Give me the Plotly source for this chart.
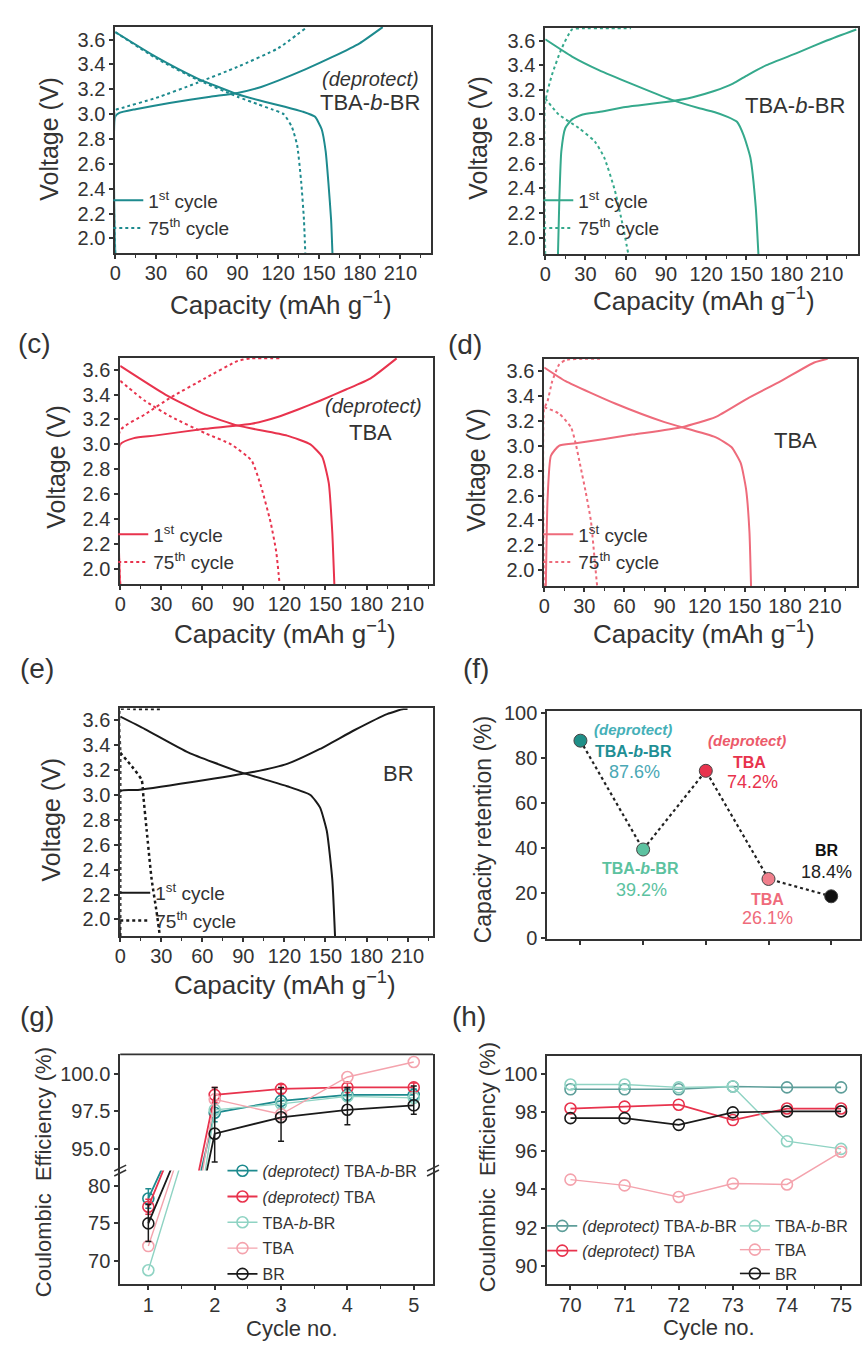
import plotly.graph_objects as go

W, H = 863, 1349
FONT = "Liberation Sans, Arial, Helvetica, sans-serif"
INK = "#333333"

# ---------------- colours ----------------
TEAL_D = "#1d8a8e"
TEAL_L = "#35a98c"
RED_D = "#e8334d"
PINK = "#ee6b7b"
BLACK = "#1a1a1a"
TEAL_PALE = "#8fd3c3"
PINK_PALE = "#f4a3ad"

# ---------------- data ----------------
cap_ticks = [0, 30, 60, 90, 120, 150, 180, 210]
volt_ticks = [2.0, 2.2, 2.4, 2.6, 2.8, 3.0, 3.2, 3.4, 3.6]

# (a) (deprotect) TBA-b-BR
a1_ch_x = [0, 0, 3, 15, 40, 70, 90, 105, 120, 140, 160, 180, 197]
a1_ch_y = [1.88, 2.98, 3.01, 3.04, 3.09, 3.14, 3.17, 3.21, 3.27, 3.36, 3.46, 3.57, 3.70]
a1_dis_x = [0, 30, 60, 90, 110, 125, 138, 147, 152, 155, 157, 159, 160]
a1_dis_y = [3.66, 3.46, 3.29, 3.16, 3.10, 3.06, 3.02, 2.98, 2.88, 2.70, 2.45, 2.15, 1.88]
a75_ch_x = [0, 0, 5, 30, 60, 90, 120, 140]
a75_ch_y = [1.88, 3.03, 3.05, 3.13, 3.25, 3.38, 3.53, 3.69]
a75_dis_x = [0, 30, 60, 90, 105, 115, 124, 130, 134, 137, 139, 140]
a75_dis_y = [3.66, 3.45, 3.28, 3.14, 3.08, 3.04, 3.00, 2.90, 2.75, 2.45, 2.15, 1.88]

# (b) TBA-b-BR
b1_ch_x = [9.5, 10.5, 12, 15, 20, 28, 40, 60, 90, 110, 126, 140, 151, 165, 188, 210, 232]
b1_ch_y = [1.865, 2.3, 2.7, 2.89, 2.96, 3.0, 3.02, 3.06, 3.10, 3.14, 3.19, 3.25, 3.32, 3.40, 3.50, 3.60, 3.69]
b1_dis_x = [0, 20, 40, 64, 94, 115, 126, 136, 143, 148, 153, 157, 159]
b1_dis_y = [3.61, 3.47, 3.36, 3.25, 3.12, 3.05, 3.02, 2.98, 2.94, 2.83, 2.65, 2.25, 1.865]
b75_ch_x = [0, 0, 5, 12, 20, 28, 45, 64]
b75_ch_y = [1.865, 3.10, 3.32, 3.53, 3.69, 3.70, 3.70, 3.70]
b75_dis_x = [0, 10, 25, 37, 44, 52, 58, 62]
b75_dis_y = [3.13, 3.0, 2.89, 2.78, 2.65, 2.38, 2.09, 1.865]

# (c) (deprotect) TBA
c1_ch_x = [0, 0, 10, 25, 62, 96, 115, 130, 146, 165, 183, 202]
c1_ch_y = [1.876, 3.0, 3.05, 3.07, 3.125, 3.165, 3.22, 3.28, 3.35, 3.44, 3.53, 3.69]
c1_dis_x = [0, 33, 62, 86, 122, 139, 147.6, 152.4, 155, 156.5]
c1_dis_y = [3.63, 3.40, 3.24, 3.15, 3.07, 3.0, 2.9, 2.69, 2.29, 1.876]
c75_ch_x = [0, 0, 18, 37.5, 62, 86, 96, 117]
c75_ch_y = [1.876, 3.11, 3.24, 3.38, 3.53, 3.67, 3.69, 3.69]
c75_dis_x = [0, 18, 37.5, 62, 81, 96, 103, 110, 114, 116.5]
c75_dis_y = [3.51, 3.35, 3.22, 3.09, 3.0, 2.87, 2.66, 2.37, 2.14, 1.876]

# (d) TBA
d1_ch_x = [1.2, 2.5, 5, 11, 23.5, 66, 103, 128, 152, 177, 202, 212]
d1_ch_y = [1.87, 2.57, 2.92, 3.0, 3.02, 3.09, 3.15, 3.23, 3.38, 3.52, 3.67, 3.70]
d1_dis_x = [0, 16, 53, 90, 128, 140, 147, 151, 153.5, 154.7]
d1_dis_y = [3.63, 3.52, 3.34, 3.19, 3.07, 2.99, 2.86, 2.65, 2.31, 1.87]
d75_ch_x = [0, 0, 2.5, 6, 11, 16, 30, 43]
d75_ch_y = [1.87, 3.3, 3.36, 3.52, 3.65, 3.69, 3.70, 3.70]
d75_dis_x = [0, 11, 20, 23.5, 27, 31, 35, 38, 39.6]
d75_dis_y = [3.31, 3.26, 3.15, 3.02, 2.84, 2.63, 2.39, 2.05, 1.87]

# (e) BR
e1_ch_x = [0, 0, 13, 62, 98, 122, 146, 171, 195, 207, 210]
e1_ch_y = [1.866, 3.03, 3.04, 3.12, 3.186, 3.25, 3.37, 3.52, 3.65, 3.69, 3.69]
e1_dis_x = [0, 18, 50, 86, 122, 139, 146, 151, 155, 157]
e1_dis_y = [3.63, 3.53, 3.34, 3.19, 3.07, 3.0, 2.9, 2.71, 2.32, 1.866]
e75_ch_x = [0, 0, 0, 10, 20, 29]
e75_ch_y = [1.866, 3.34, 3.69, 3.69, 3.69, 3.69]
e75_dis_x = [0, 8.5, 15.7, 17, 19.4, 23, 26.6, 29]
e75_dis_y = [3.34, 3.23, 3.12, 2.98, 2.71, 2.32, 2.06, 1.866]

# (f) capacity retention
f_x = [1, 2, 3, 4, 5]
f_y = [87.6, 39.2, 74.2, 26.1, 18.4]
f_colors = ["#1f8f88", "#5cc2a0", "#e8334d", "#f07f8c", "#111111"]

# (g) coulombic efficiency, first cycles
g_x = [1, 2, 3, 4, 5]
g_dTBbBR = [78.3, 97.4, 98.2, 98.6, 98.6]
g_dTBA = [77.2, 98.6, 99.0, 99.1, 99.1]
g_TBbBR = [68.8, 97.6, 98.0, 98.5, 98.4]
g_TBA = [72.0, 98.3, 97.3, 99.8, 100.8]
g_BR = [75.0, 96.0, 97.1, 97.6, 97.9]
g_BR_err_up = [2.5, 3.1, 2.0, 1.5, 1.3]
g_BR_err_dn = [2.4, 1.9, 1.6, 1.0, 0.6]
g_dTBA_err = [1.0, 0.5, 0.3, 0.3, 0.3]
g_dTBbBR_err = [1.3, 0.6, 0.5, 0.4, 0.4]

# (h) coulombic efficiency, late cycles
h_x = [70, 71, 72, 73, 74, 75]
h_dTBbBR = [99.2, 99.2, 99.2, 99.35, 99.3, 99.3]
h_dTBA = [98.2, 98.3, 98.4, 97.6, 98.2, 98.2]
h_TBbBR = [99.45, 99.45, 99.3, 99.35, 96.5, 96.1]
h_TBA = [94.5, 94.2, 93.6, 94.3, 94.25, 95.95]
h_BR = [97.7, 97.7, 97.35, 98.0, 98.05, 98.05]


def fx(p):
    return p / W


def fy(p):
    return 1 - p / H


fig = go.Figure()


def add_cycle(chx, chy, dx, dy, color, dash, name, xa, ya, leg, width=2.0):
    fig.add_trace(go.Scatter(
        x=list(chx) + [None] + list(dx), y=list(chy) + [None] + list(dy),
        mode="lines", name=name, xaxis=xa, yaxis=ya, legend=leg,
        line=dict(color=color, width=width, dash=dash, shape="spline", smoothing=0.5),
        hoverinfo="skip"))


n1 = "1<sup>st</sup> cycle"
n75 = "75<sup>th</sup> cycle"
add_cycle(a1_ch_x, a1_ch_y, a1_dis_x, a1_dis_y, TEAL_D, "solid", n1, "x", "y", "legend")
add_cycle(a75_ch_x, a75_ch_y, a75_dis_x, a75_dis_y, TEAL_D, "dot", n75, "x", "y", "legend")
add_cycle(b1_ch_x, b1_ch_y, b1_dis_x, b1_dis_y, TEAL_L, "solid", n1, "x2", "y2", "legend2")
add_cycle(b75_ch_x, b75_ch_y, b75_dis_x, b75_dis_y, TEAL_L, "dot", n75, "x2", "y2", "legend2")
add_cycle(c1_ch_x, c1_ch_y, c1_dis_x, c1_dis_y, RED_D, "solid", n1, "x3", "y3", "legend3")
add_cycle(c75_ch_x, c75_ch_y, c75_dis_x, c75_dis_y, RED_D, "dot", n75, "x3", "y3", "legend3")
add_cycle(d1_ch_x, d1_ch_y, d1_dis_x, d1_dis_y, PINK, "solid", n1, "x4", "y4", "legend4")
add_cycle(d75_ch_x, d75_ch_y, d75_dis_x, d75_dis_y, PINK, "dot", n75, "x4", "y4", "legend4")
add_cycle(e1_ch_x, e1_ch_y, e1_dis_x, e1_dis_y, BLACK, "solid", n1, "x5", "y5", "legend5")
add_cycle(e75_ch_x, e75_ch_y, e75_dis_x, e75_dis_y, BLACK, "dot", n75, "x5", "y5", "legend5", width=2.5)

# (f)
fig.add_trace(go.Scatter(
    x=f_x, y=f_y, mode="lines+markers", xaxis="x6", yaxis="y6", showlegend=False,
    line=dict(color="#222", width=2.2, dash="dot"),
    marker=dict(size=13, color=f_colors, line=dict(color="#444", width=1))))

# (g) broken axis: upper part y8, lower part y7
g_series = [
    ("gA", "<i>(deprotect)</i> TBA-<i>b</i>-BR", g_dTBbBR, TEAL_D, 1.8, g_dTBbBR_err, g_dTBbBR_err),
    ("gB", "<i>(deprotect)</i> TBA", g_dTBA, RED_D, 1.8, g_dTBA_err, g_dTBA_err),
    ("gC", "TBA-<i>b</i>-BR", g_TBbBR, TEAL_PALE, 1.4, None, None),
    ("gD", "TBA", g_TBA, PINK_PALE, 1.4, None, None),
    ("gE", "BR", g_BR, BLACK, 1.8, g_BR_err_up, g_BR_err_dn),
]
for grp, name, vals, col, lw, eu, ed in g_series:
    for ya, show in (("y7", False), ("y8", True)):
        err = None
        if eu is not None:
            err = dict(type="data", array=eu, arrayminus=ed, color=col, thickness=1.5, width=3)
        fig.add_trace(go.Scatter(
            x=g_x, y=vals, mode="lines+markers", name=name, xaxis="x7", yaxis=ya,
            legend="legend6", legendgroup=grp, showlegend=show, error_y=err,
            line=dict(color=col, width=lw),
            marker=dict(symbol="circle-open", size=11, color=col, line=dict(width=1.6, color=col))))

# (h)
h_series = [
    ("hA", "<i>(deprotect)</i> TBA-<i>b</i>-BR", h_dTBbBR, "#5e9e9a", 1.6, "legend7"),
    ("hB", "<i>(deprotect)</i> TBA", h_dTBA, RED_D, 1.8, "legend7"),
    ("hC", "TBA-<i>b</i>-BR", h_TBbBR, TEAL_PALE, 1.4, "legend8"),
    ("hD", "TBA", h_TBA, PINK_PALE, 1.4, "legend8"),
    ("hE", "BR", h_BR, BLACK, 1.6, "legend8"),
]
for grp, name, vals, col, lw, leg in h_series:
    fig.add_trace(go.Scatter(
        x=h_x, y=vals, mode="lines+markers", name=name, xaxis="x8", yaxis="y9",
        legend=leg, legendgroup=grp, line=dict(color=col, width=lw),
        marker=dict(symbol="circle-open", size=11, color=col, line=dict(width=1.6, color=col))))

# ---------------- layout ----------------
tickfont = dict(family=FONT, size=20, color=INK)
base = dict(showline=True, linecolor=INK, linewidth=1.8, mirror=True, ticks="outside",
            ticklen=4, tickwidth=1.5, tickcolor=INK, showgrid=False, zeroline=False,
            tickfont=tickfont, fixedrange=True)


def xdom(l, r):
    return [fx(l), fx(r)]


def ydom(t, b):
    return [fy(b), fy(t)]


def cap_axis(l, r, rmax, anchor):
    return dict(base, domain=xdom(l, r), range=[0, rmax], tickvals=cap_ticks, anchor=anchor,
                ticklabelstandoff=-3,
                minor=dict(ticks="outside", ticklen=3, tickwidth=1.2, tickcolor=INK, dtick=15, tick0=0))


def volt_axis(t, b, lo, hi, anchor):
    return dict(base, domain=ydom(t, b), range=[lo, hi], tickvals=volt_ticks, tickformat=".1f", anchor=anchor)


layout = dict(
    width=W, height=H, margin=dict(l=0, r=0, t=0, b=0),
    paper_bgcolor="white", plot_bgcolor="white",
    font=dict(family=FONT, color=INK),
    xaxis=cap_axis(110, 428, 232.6, "y"), yaxis=volt_axis(17, 247, 1.88, 3.703, "x"),
    xaxis2=cap_axis(543, 858, 233.3, "y2"), yaxis2=volt_axis(18, 248, 1.864, 3.704, "x2"),
    xaxis3=cap_axis(115, 430, 228.6, "y3"), yaxis3=volt_axis(353, 583, 1.876, 3.695, "x3"),
    xaxis4=cap_axis(542, 857, 234, "y4"), yaxis4=volt_axis(354, 585, 1.87, 3.70, "x4"),
    xaxis5=cap_axis(115, 430, 228.6, "y5"), yaxis5=volt_axis(709, 940, 1.866, 3.695, "x5"),
    xaxis6=dict(base, domain=xdom(545, 860), range=[0.47, 5.46], tickvals=f_x, showticklabels=False, anchor="y6"),
    yaxis6=dict(base, domain=ydom(712, 943), range=[-0.6, 100.6], tickvals=[0, 20, 40, 60, 80, 100], anchor="x6"),
    xaxis7=dict(base, domain=xdom(115, 430), range=[0.576, 5.29], tickvals=g_x, anchor="y7", mirror=False,
                ticklabelstandoff=-2,
                minor=dict(ticks="outside", ticklen=3, tickwidth=1.2, tickcolor=INK, dtick=0.5, tick0=0)),
    yaxis7=dict(base, domain=ydom(1178, 1293), range=[67.0, 82.0], tickvals=[70, 75, 80], anchor="x7"),
    yaxis8=dict(base, domain=ydom(1060, 1178), range=[93.53, 101.32], tickvals=[95, 97.5, 100],
                tickformat=".1f", anchor="x7"),
    xaxis8=dict(base, domain=xdom(545, 860), range=[69.57, 75.35], tickvals=h_x, anchor="y9",
                ticklabelstandoff=-2,
                minor=dict(ticks="outside", ticklen=3, tickwidth=1.2, tickcolor=INK, dtick=0.5, tick0=0)),
    yaxis9=dict(base, domain=ydom(1062, 1293), range=[89.08, 100.92], tickvals=[90, 92, 94, 96, 98, 100], anchor="x8"),
)


def leg(xp, yp, size, gap=0):
    return dict(x=fx(xp), y=fy(yp), xanchor="left", yanchor="top", bgcolor="rgba(0,0,0,0)",
                borderwidth=0, font=dict(family=FONT, size=size, color=INK), tracegroupgap=gap,
                itemclick=False, itemdoubleclick=False)


layout["legend"] = leg(103, 174, 19)
layout["legend2"] = leg(536, 174, 19)
layout["legend3"] = leg(108, 513, 19)
layout["legend4"] = leg(536, 513, 19)
layout["legend5"] = leg(110, 877, 19)
layout["legend6"] = leg(218, 1161, 16, gap=2)
layout["legend7"] = leg(540, 1217, 16, gap=1)
layout["legend8"] = leg(734, 1217, 16, gap=0)

fig.update_layout(**layout)

# ---------------- annotations ----------------
ann = []


def text(xp, yp, s, size, color=INK, angle=0, xanchor="center"):
    ann.append(dict(x=fx(xp), y=fy(yp), xref="paper", yref="paper", text=s, showarrow=False,
                    font=dict(family=FONT, size=size, color=color), textangle=angle,
                    xanchor=xanchor, yanchor="middle"))


cap_title = "Capacity (mAh g<sup>\u22121</sup>)"
# panel labels
for lab, xp, yp in [("(c)", 29, 339), ("(d)", 462, 340), ("(e)", 31, 668), ("(f)", 473, 668),
                    ("(g)", 31, 1022), ("(h)", 466, 1022)]:
    text(xp, yp, lab, 28)
# x titles
text(277, 298, cap_title, 26)
text(703, 294, cap_title, 26)
text(281, 632, cap_title, 26)
text(703, 632, cap_title, 26)
text(281, 988, cap_title, 26)
text(288, 1338, "Cycle no.", 22)
text(708, 1337, "Cycle no.", 22)
# y titles
text(43, 131, "Voltage (V)", 25, angle=-90)
text(475, 130, "Voltage (V)", 25, angle=-90)
text(50, 464, "Voltage (V)", 25, angle=-90)
text(473, 467, "Voltage (V)", 25, angle=-90)
text(45, 822, "Voltage (V)", 25, angle=-90)
text(480, 832, "Capacity retention (%)", 23, angle=-90)
text(38, 1180, "Coulombic  Efficiency (%)", 22, angle=-90)
text(485, 1175, "Coulombic  Efficiency (%)", 22, angle=-90)
# sample labels in voltage panels
text(367, 70, "<i>(deprotect)</i>", 20)
text(367, 94, "TBA-<i>b</i>-BR", 22)
text(795, 97, "TBA-<i>b</i>-BR", 22)
text(370, 402, "<i>(deprotect)</i>", 20)
text(367, 429, "TBA", 22)
text(795, 437, "TBA", 22)
text(395, 775, "BR", 22)


# (f) labels in data coordinates
def ftext(x, y, s, size, color):
    ann.append(dict(x=x, y=y, xref="x6", yref="y6", text=s, showarrow=False,
                    font=dict(family=FONT, size=size, color=color)))


ftext(1.84, 92.6, "<b><i>(deprotect)</i></b>", 15, "#45b0b8")
ftext(1.85, 82.7, "<b>TBA-<i>b</i>-BR</b>", 16, "#1f8f95")
ftext(1.86, 73.7, "87.6%", 18, "#4aa8b5")
ftext(1.96, 30.7, "<b>TBA-<i>b</i>-BR</b>", 16, "#5cc29f")
ftext(1.97, 21.3, "39.2%", 18, "#5cc29f")
ftext(3.66, 87.9, "<b><i>(deprotect)</i></b>", 15, "#ec5a6a")
ftext(3.69, 78.0, "<b>TBA</b>", 16, "#e8334d")
ftext(3.74, 69.3, "74.2%", 18, "#e8334d")
ftext(3.98, 16.9, "<b>TBA</b>", 16, "#ef6b7b")
ftext(3.99, 8.9, "26.1%", 18, "#ef6b7b")
ftext(4.93, 38.7, "<b>BR</b>", 16, "#111111")
ftext(4.93, 29.3, "18.4%", 18, "#222222")

fig.update_layout(annotations=ann)

# ---------------- frame pieces for broken axis (g) ----------------
shapes = [
    dict(type="line", xref="x7 domain", yref="y8 domain", x0=0, x1=1, y0=1, y1=1,
         line=dict(color=INK, width=1.8)),
]
for xc in (115, 430):
    for dy in (-2.5, 2.5):
        shapes.append(dict(type="line", xref="paper", yref="paper",
                           x0=fx(xc - 6), x1=fx(xc + 6), y0=fy(1178 + dy + 3), y1=fy(1178 + dy - 3),
                           line=dict(color=INK, width=1.5)))
fig.update_layout(shapes=shapes)

fig.write_html("out.html")
